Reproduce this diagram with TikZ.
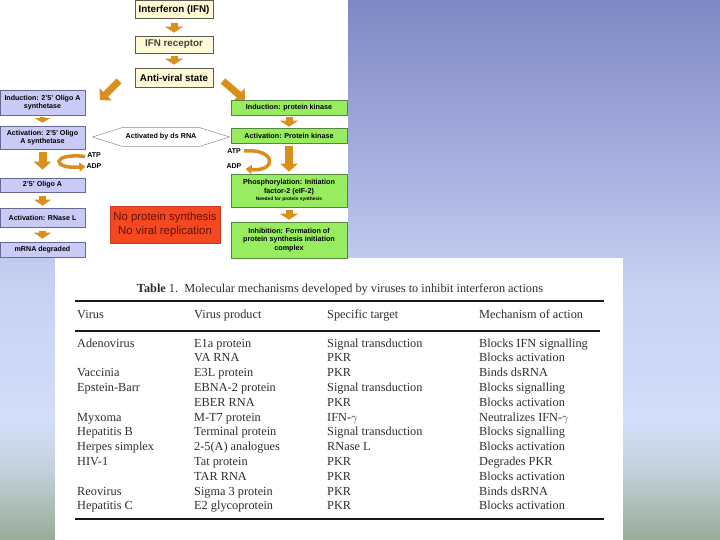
\documentclass[tikz,border=0pt]{standalone}
\usepackage{fontspec}
\setmainfont{Liberation Serif}
\setsansfont{Liberation Sans}
\usetikzlibrary{arrows.meta,shapes.symbols,calc}

\definecolor{cream}{RGB}{255,250,214}
\definecolor{creamd}{RGB}{90,90,80}
\definecolor{purp}{RGB}{202,202,246}
\definecolor{purpd}{RGB}{105,105,150}
\definecolor{grn}{RGB}{152,236,96}
\definecolor{grnd}{RGB}{85,135,60}
\definecolor{arrc}{RGB}{218,142,28}
\definecolor{redf}{RGB}{244,72,32}
\definecolor{redt}{RGB}{100,18,8}
\definecolor{bgA}{RGB}{128,136,196}
\definecolor{bgA2}{RGB}{164,172,222}
\definecolor{bgB}{RGB}{198,208,242}
\definecolor{bgC}{RGB}{212,222,250}
\definecolor{bgD}{RGB}{196,208,220}
\definecolor{bgE}{RGB}{152,172,150}

\pgfdeclareverticalshading{bgshade}{100bp}{color(0bp)=(bgE); color(25bp)=(bgE); color(31.5bp)=(bgD); color(36bp)=(bgC); color(49bp)=(bgB); color(61bp)=(bgA2); color(75bp)=(bgA); color(100bp)=(bgA)}

\tikzset{
  creambox/.style={draw=creamd, line width=0.8pt, fill=cream, minimum width=78pt, inner sep=0pt,
    font=\sffamily\bfseries\fontsize{9.8}{11}\selectfont},
  purpbox/.style={draw=purpd, line width=0.6pt, fill=purp, minimum width=85pt, inner sep=0pt, align=center,
    font=\sffamily\bfseries\fontsize{7.1}{8.6}\selectfont},
  grnbox/.style={draw=grnd, line width=0.6pt, fill=grn, minimum width=116pt, inner sep=0pt, align=center,
    font=\sffamily\bfseries\fontsize{7.2}{8.8}\selectfont},
  bigarr/.style={draw=arrc, line width=8pt, -{Triangle[width=17pt,length=8pt]}},
  smallarr/.style={draw=arrc, line width=5.5pt, -{Triangle[width=15pt,length=4.5pt]}},
  curvarr/.style={draw=arrc, line width=3.5pt, -{Triangle[width=9pt,length=6pt]}},
  lab/.style={inner sep=0pt, font=\sffamily\bfseries\fontsize{7}{8}\selectfont},
  tcell/.style={anchor=west, inner sep=0pt, text height=8.5pt, text depth=2.5pt, text=black!82,
    font=\fontsize{12.3}{14}\selectfont},
}

\begin{document}
\begin{tikzpicture}[x=1pt,y=-1pt]
\useasboundingbox (0,0) rectangle (720,540);
\shade[shading=bgshade] (0,0) rectangle (720,540);
\fill[white] (0,0) rectangle (348,258);
\fill[white] (55,258) rectangle (623,540);

% top column
\node[creambox, minimum height=18pt] (ifn) at (174,9.5) {Interferon (IFN)};
\node[creambox, minimum height=17pt, text=black!75] (rec) at (174,44.5) {IFN receptor};
\node[creambox, minimum height=19pt] (avs) at (174,77.5) {Anti-viral state};
\draw[smallarr, line width=7pt, -{Triangle[width=18pt,length=6pt]}, shorten <=4pt, shorten >=3pt] (ifn) -- (rec);
\draw[smallarr, line width=7pt, -{Triangle[width=18pt,length=6pt]}, shorten <=3pt, shorten >=3pt] (rec) -- (avs);

% diagonal arrows
\coordinate (dl0) at (119,81);
\coordinate (dl1) at (100,100);
\coordinate (dr0) at (223,81);
\coordinate (dr1) at (245,100);
\draw[bigarr, line width=7pt] (dl0) -- (dl1);
\draw[bigarr, line width=7pt] (dr0) -- (dr1);

% left (purple) column
\node[purpbox, minimum height=25pt] (ind1) at (42.5,102.5) {Induction: 2'5' Oligo A\\synthetase};
\node[purpbox, minimum height=23pt] (act1) at (42.5,137.5) {Activation: 2'5' Oligo\\A synthetase};
\node[purpbox, minimum height=14pt] (olig) at (42.5,185) {2'5' Oligo A};
\node[purpbox, minimum height=19pt] (rnase) at (42.5,217.5) {Activation: RNase L};
\node[purpbox, minimum height=15pt] (mrna) at (42.5,249.5) {mRNA degraded};
\draw[smallarr, shorten <=2pt, shorten >=3pt] (ind1) -- (act1);
\draw[bigarr, shorten <=3pt, shorten >=8pt] (act1) -- (olig);
\draw[smallarr, line width=7pt, -{Triangle[width=17pt,length=6pt]}, shorten <=4pt, shorten >=2pt] (olig) -- (rnase);
\draw[smallarr, line width=7pt, -{Triangle[width=17pt,length=6pt]}, shorten <=4pt, shorten >=3pt] (rnase) -- (mrna);

\node[lab] (latp) at (94,155.5) {ATP};
\node[lab] (ladp) at (94,166.5) {ADP};
\draw[curvarr] ([xshift=-2pt,yshift=-1pt]latp.west) .. controls +(-34,-4) and +(-34,3) .. ([xshift=-1pt]ladp.west);

% right (green) column
\node[grnbox, minimum height=15pt] (gind) at (289,107.5) {Induction: protein kinase};
\node[grnbox, minimum height=15pt] (gact) at (289,135.5) {Activation: Protein kinase};
\node[grnbox, minimum height=33pt] (gph) at (289,190.5) {Phosphorylation: Initiation\\factor-2 (eIF-2)\\[-1.5pt]{\fontsize{4.8}{5.5}\selectfont Needed for protein synthesis}};
\node[grnbox, minimum height=36pt] (ginh) at (289,240) {Inhibition: Formation of\\protein synthesis initiation\\complex};
\draw[smallarr, line width=7pt, -{Triangle[width=18pt,length=6pt]}, shorten <=2pt, shorten >=1pt] (gind) -- (gact);
\draw[bigarr, shorten <=3pt, shorten >=2pt] (gact) -- (gph);
\draw[smallarr, line width=7pt, -{Triangle[width=18pt,length=6pt]}, shorten <=3pt, shorten >=2pt] (gph) -- (ginh);

\node[lab] (ratp) at (234,151) {ATP};
\node[lab] (radp) at (234,166) {ADP};
\draw[curvarr] ([xshift=3pt]ratp.east) .. controls +(32,-3) and +(32,3) .. ([xshift=4pt,yshift=-3pt]radp.east);

% hexagon
\node[signal, signal to=west and east, signal pointer angle=35, draw=black!45, line width=0.5pt,
  minimum width=137pt, minimum height=19pt, inner sep=0pt,
  font=\sffamily\bfseries\fontsize{7.2}{8}\selectfont] (ds) at (161,137) {Activated by ds RNA};

% red box
\node[fill=redf, draw=redf!80!black, line width=0.4pt, minimum width=110pt, minimum height=37pt, inner sep=0pt,
  align=center, text=redt, font=\sffamily\fontsize{11.4}{14}\selectfont] (nops) at (165,224.5)
  {No protein synthesis\\No viral replication};

% table
\node[inner sep=0pt, text=black!82, font=\fontsize{12.3}{14}\selectfont] (cap) at (340,289)
  {\textbf{Table} 1.\ \ Molecular mechanisms developed by viruses to inhibit interferon actions};
\coordinate (r1a) at (75,301); \coordinate (r1b) at (604,301);
\coordinate (r2a) at (75,331); \coordinate (r2b) at (600,331);
\coordinate (r3a) at (75,519); \coordinate (r3b) at (604,519);
\draw[line width=2pt, black!90] (r1a) -- (r1b);
\draw[line width=1.2pt, black!90] (r2a) -- (r2b);
\draw[line width=2.2pt, black!90] (r3a) -- (r3b);

\node[tcell] (h1) at (77,315) {Virus};
\node[tcell] (h2) at (194,315) {Virus product};
\node[tcell] (h3) at (327,315) {Specific target};
\node[tcell] (h4) at (479,315) {Mechanism of action};

\foreach \a/\b/\c/\d [count=\i from 0] in {
  Adenovirus/E1a protein/Signal transduction/Blocks IFN signalling,
  {}/VA RNA/PKR/Blocks activation,
  Vaccinia/E3L protein/PKR/Binds dsRNA,
  Epstein-Barr/EBNA-2 protein/Signal transduction/Blocks signalling,
  {}/EBER RNA/PKR/Blocks activation,
  Myxoma/M-T7 protein/IFN-$\gamma$/Neutralizes IFN-$\gamma$,
  Hepatitis B/Terminal protein/Signal transduction/Blocks signalling,
  Herpes simplex/2-5(A) analogues/RNase L/Blocks activation,
  HIV-1/Tat protein/PKR/Degrades PKR,
  {}/TAR RNA/PKR/Blocks activation,
  Reovirus/Sigma 3 protein/PKR/Binds dsRNA,
  Hepatitis C/E2 glycoprotein/PKR/Blocks activation}{
  \node[tcell] (c\i a) at (77,344+14.8*\i) {\a};
  \node[tcell] (c\i b) at (194,344+14.8*\i) {\b};
  \node[tcell] (c\i c) at (327,344+14.8*\i) {\c};
  \node[tcell] (c\i d) at (479,344+14.8*\i) {\d};
}
\end{tikzpicture}
\end{document}
